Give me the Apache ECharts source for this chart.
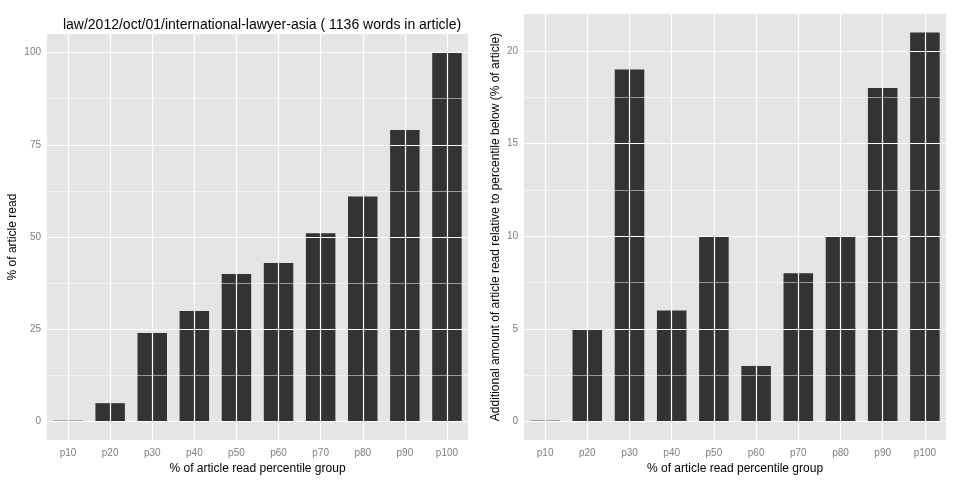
<!DOCTYPE html>
<html><head><meta charset="utf-8">
<script src="https://cdn.jsdelivr.net/npm/echarts@6/dist/echarts.min.js"></script>
<style>html,body{margin:0;background:#fff}#c{width:960px;height:480px}</style>
</head><body><div id="c"></div>
<script>
const categories = ['p10','p20','p30','p40','p50','p60','p70','p80','p90','p100'];
const pctRead = [0, 5, 24, 30, 40, 43, 51, 61, 79, 100];
const addRead = [0, 5, 19, 6, 10, 3, 8, 10, 18, 21];
const leftMajor = [0, 25, 50, 75, 100], leftMinor = [12.5, 37.5, 62.5, 87.5];
const rightMajor = [0, 5, 10, 15, 20], rightMinor = [2.5, 7.5, 12.5, 17.5];
const titleText = 'law/2012/oct/01/international-lawyer-asia ( 1136 words in article)';

const font = 'Liberation Sans, Arial, sans-serif';
const chart = echarts.init(document.getElementById('c'));

function gridLines(idx, major, minor) {
    const data = [];
    major.forEach(v => data.push({ yAxis: v, lineStyle: { width: 1.2 } }));
    minor.forEach(v => data.push({ yAxis: v, lineStyle: { width: 0.5 } }));
    categories.forEach(c => data.push({ xAxis: c, lineStyle: { width: 1.2 } }));
    return {
        type: 'line', xAxisIndex: idx, yAxisIndex: idx, data: [], z: 1, silent: true,
        markLine: {
            symbol: 'none', silent: true, label: { show: false }, animation: false,
            lineStyle: { color: '#ffffff', type: 'solid' }, data: data
        }
    };
}

function yAxis(idx, min, max, step, name) {
    return {
        type: 'value', gridIndex: idx, min: min, max: max, interval: step,
        splitLine: { show: false }, axisLine: { show: false }, axisTick: { show: false },
        axisLabel: {
            color: '#7f7f7f', fontSize: 10, fontFamily: font, margin: 6,
            formatter: v => (v % (step === 5 ? 25 : 5) === 0 && v >= 0) ? String(v) : ''
        },
        name: name, nameLocation: 'middle', nameRotate: 90, nameGap: idx ? 22 : 28,
        nameTextStyle: { color: '#000', fontSize: 12, fontFamily: font }
    };
}

function xAxis(idx) {
    return {
        type: 'category', gridIndex: idx, data: categories,
        axisLine: { show: false }, axisTick: { show: false }, splitLine: { show: false },
        axisLabel: { color: '#7f7f7f', fontSize: 10, fontFamily: font, margin: 8 },
        name: '% of article read percentile group', nameLocation: 'middle', nameGap: 20,
        nameTextStyle: { color: '#000', fontSize: 12, fontFamily: font }
    };
}

chart.setOption({
    animation: false,
    title: {
        text: titleText, left: 257, top: 13, textAlign: 'center',
        textStyle: { color: '#000', fontSize: 14, fontWeight: 'normal', fontFamily: font }
    },
    grid: [
        { left: 47, right: 492, top: 34, bottom: 38, show: true, backgroundColor: '#e5e5e5', borderWidth: 0 },
        { left: 524, right: 14, top: 14, bottom: 38, show: true, backgroundColor: '#e5e5e5', borderWidth: 0 }
    ],
    xAxis: [xAxis(0), xAxis(1)],
    yAxis: [
        yAxis(0, -5, 105, 5, '% of article read'),
        yAxis(1, -1, 22, 1, 'Additional amount of article read relative to percentile below (% of article)')
    ],
    series: [
        gridLines(0, leftMajor, leftMinor),
        gridLines(1, rightMajor, rightMinor),
        { type: 'bar', xAxisIndex: 0, yAxisIndex: 0, data: pctRead, barWidth: '70%', barMinHeight: 1,
          itemStyle: { color: '#333333' }, z: 3 },
        { type: 'bar', xAxisIndex: 1, yAxisIndex: 1, data: addRead, barWidth: '70%', barMinHeight: 1,
          itemStyle: { color: '#333333' }, z: 3 }
    ]
});
</script></body></html>
